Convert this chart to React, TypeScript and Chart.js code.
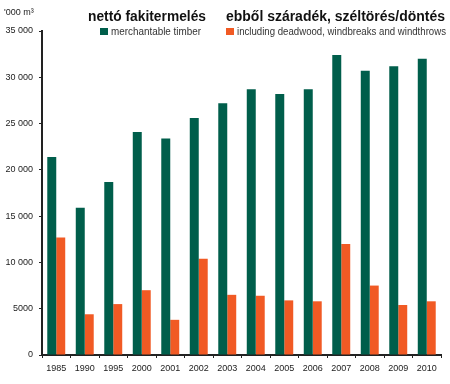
import React, { useEffect, useRef } from "react";
import { Chart, registerables } from "chart.js";

Chart.register(...registerables);

const years = ["1985", "1990", "1995", "2000", "2001", "2002", "2003", "2004", "2005", "2006", "2007", "2008", "2009", "2010"];
const merchantable = [21400, 15900, 18700, 24100, 23400, 25600, 27200, 28700, 28200, 28700, 32400, 30700, 31200, 32000];
const deadwood = [12700, 4400, 5500, 7000, 3800, 10400, 6500, 6400, 5900, 5800, 12000, 7500, 5400, 5800];
const headers = ["nettó fakitermelés", "ebből száradék, széltörés/döntés"];
const seriesLabels = ["merchantable timber", "including deadwood, windbreaks and windthrows"];
const unitLabel = "'000 m³";
const yMax = 35000;
const yStep = 5000;

const GREEN = "#005e4b";
const ORANGE = "#f15a24";
const FONT = '"Liberation Sans", Arial, sans-serif';

function fmt(v: number): string {
  if (v < 10000) return String(v);
  const th = Math.floor(v / 1000);
  const rest = String(v % 1000).padStart(3, "0");
  return th + " " + rest;
}

const headerPlugin = {
  id: "headerPlugin",
  afterDraw(chart: any) {
    const ctx = chart.ctx as CanvasRenderingContext2D;
    ctx.save();
    ctx.textBaseline = "alphabetic";
    ctx.textAlign = "left";
    // unit label
    ctx.fillStyle = "#222";
    ctx.font = `9px ${FONT}`;
    ctx.fillText(unitLabel, 4, 15);
    // headers
    ctx.fillStyle = "#111";
    ctx.font = `bold 14px ${FONT}`;
    ctx.fillText(headers[0], 88, 21, 118);
    ctx.fillText(headers[1], 226, 21, 219);
    // legend items
    const items = [
      { x: 100, color: GREEN, text: chart.data.datasets[0].label, w: 90 },
      { x: 226, color: ORANGE, text: chart.data.datasets[1].label, w: 209 },
    ];
    ctx.font = `10px ${FONT}`;
    for (const it of items) {
      ctx.fillStyle = it.color;
      ctx.fillRect(it.x, 28, 8, 7);
      ctx.fillStyle = "#333";
      ctx.fillText(it.text, it.x + 11, 35, it.w);
    }
    ctx.restore();
  },
};

export default function App() {
  const ref = useRef<HTMLCanvasElement | null>(null);
  useEffect(() => {
    if (!ref.current) return;
    const chart = new Chart(ref.current, {
      type: "bar",
      data: {
        labels: years,
        datasets: [
          { label: seriesLabels[0], data: merchantable, backgroundColor: GREEN, borderWidth: 0 },
          { label: seriesLabels[1], data: deadwood, backgroundColor: ORANGE, borderWidth: 0 },
        ],
      },
      options: {
        animation: false,
        responsive: false,
        devicePixelRatio: 1,
        layout: { padding: { left: 0, right: 9, top: 31, bottom: 0 } },
        datasets: { bar: { categoryPercentage: 0.63, barPercentage: 1 } },
        plugins: {
          legend: { display: false },
          tooltip: { enabled: false },
          title: { display: false },
        },
        scales: {
          x: {
            grid: {
              display: true,
              drawOnChartArea: false,
              drawTicks: true,
              tickLength: 3,
              color: "#222",
              offset: true,
            },
            border: { display: true, color: "#222", width: 2 },
            ticks: {
              color: "#222",
              font: { family: FONT, size: 9 },
              padding: 5,
              maxRotation: 0,
              autoSkip: false,
            },
            afterFit(scale: any) {
              scale.height = 29;
            },
          },
          y: {
            min: 0,
            max: yMax,
            grid: {
              display: true,
              drawOnChartArea: false,
              drawTicks: true,
              tickLength: 3,
              color: "#222",
            },
            border: { display: true, color: "#222", width: 2 },
            ticks: {
              stepSize: yStep,
              color: "#222",
              font: { family: FONT, size: 9 },
              padding: 6,
              callback: (v: any) => fmt(Number(v)),
            },
            afterFit(scale: any) {
              scale.width = 42;
            },
          },
        },
      },
      plugins: [headerPlugin],
    } as any);
    return () => chart.destroy();
  }, []);
  return (
    <div style={{ position: "absolute", left: 0, top: 0, width: 450, height: 384, background: "#fff" }}>
      <canvas ref={ref} width={450} height={384} style={{ display: "block" }} />
    </div>
  );
}
